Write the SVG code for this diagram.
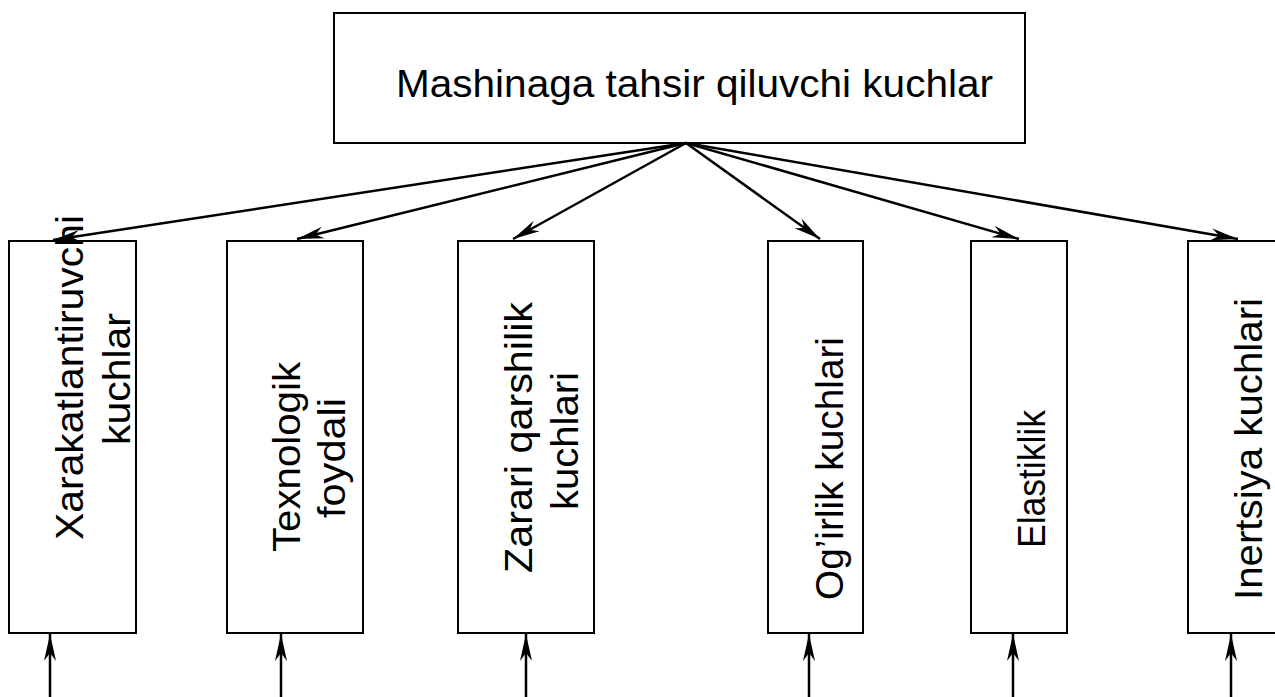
<svg xmlns="http://www.w3.org/2000/svg" width="1275" height="697" viewBox="0 0 1275 697">
<style>
.box{fill:#fff;stroke:#000;stroke-width:2}
.lbl{font-family:"Liberation Sans",Arial,sans-serif;font-size:38px;fill:#000}
.con{stroke:#000;stroke-width:2.5;fill:none;marker-end:url(#ah)}
</style>
<defs>
<marker id="ah" viewBox="-30 -7 32 14" refX="0" refY="0" markerWidth="32" markerHeight="14" markerUnits="userSpaceOnUse" orient="auto">
<path d="M0,0 L-27,-6 L-19,0 L-27,6 Z" fill="#000"/>
</marker>
</defs>
<rect width="1275" height="697" fill="#fff"/>
<g id="top">
<rect class="box" x="334" y="13" width="691" height="130"/>
<text class="lbl" x="396" y="97" textLength="597" lengthAdjust="spacingAndGlyphs">Mashinaga tahsir qiluvchi kuchlar</text>
</g>
<g id="n1">
<rect class="box" x="9" y="241" width="127" height="392"/>
<text class="lbl" transform="translate(83,540) rotate(-90)" textLength="325" lengthAdjust="spacingAndGlyphs">Xarakatlantiruvchi</text>
<text class="lbl" transform="translate(130,445) rotate(-90)" textLength="132" lengthAdjust="spacingAndGlyphs">kuchlar</text>
</g>
<g id="n2">
<rect class="box" x="227" y="241" width="136" height="392"/>
<text class="lbl" transform="translate(300,552) rotate(-90)" textLength="190" lengthAdjust="spacingAndGlyphs">Texnologik</text>
<text class="lbl" transform="translate(345,518) rotate(-90)" textLength="120" lengthAdjust="spacingAndGlyphs">foydali</text>
</g>
<g id="n3">
<rect class="box" x="458" y="241" width="136" height="392"/>
<text class="lbl" transform="translate(532,573) rotate(-90)" textLength="271" lengthAdjust="spacingAndGlyphs">Zarari qarshilik</text>
<text class="lbl" transform="translate(578,510) rotate(-90)" textLength="138" lengthAdjust="spacingAndGlyphs">kuchlari</text>
</g>
<g id="n4">
<rect class="box" x="768" y="241" width="95" height="392"/>
<text class="lbl" transform="translate(843,600) rotate(-90)" textLength="263" lengthAdjust="spacingAndGlyphs">Og’irlik kuchlari</text>
</g>
<g id="n5">
<rect class="box" x="971" y="241" width="96" height="392"/>
<text class="lbl" transform="translate(1045,548) rotate(-90)" textLength="138" lengthAdjust="spacingAndGlyphs">Elastiklik</text>
</g>
<g id="n6">
<rect class="box" x="1188" y="241" width="100" height="392"/>
<text class="lbl" transform="translate(1262,600) rotate(-90)" textLength="302" lengthAdjust="spacingAndGlyphs">Inertsiya kuchlari</text>
</g>
<g id="connectors">
<line class="con" x1="686" y1="143" x2="53" y2="240"/>
<line class="con" x1="686" y1="143" x2="297" y2="239"/>
<line class="con" x1="686" y1="143" x2="513" y2="239"/>
<line class="con" x1="686" y1="143" x2="820" y2="239"/>
<line class="con" x1="686" y1="143" x2="1019" y2="239"/>
<line class="con" x1="686" y1="143" x2="1238" y2="239"/>
<line class="con" x1="50" y1="697" x2="50" y2="634"/>
<line class="con" x1="281" y1="697" x2="281" y2="634"/>
<line class="con" x1="526" y1="697" x2="526" y2="634"/>
<line class="con" x1="809" y1="697" x2="809" y2="634"/>
<line class="con" x1="1013" y1="697" x2="1013" y2="634"/>
<line class="con" x1="1231" y1="697" x2="1231" y2="634"/>
</g>
</svg>
